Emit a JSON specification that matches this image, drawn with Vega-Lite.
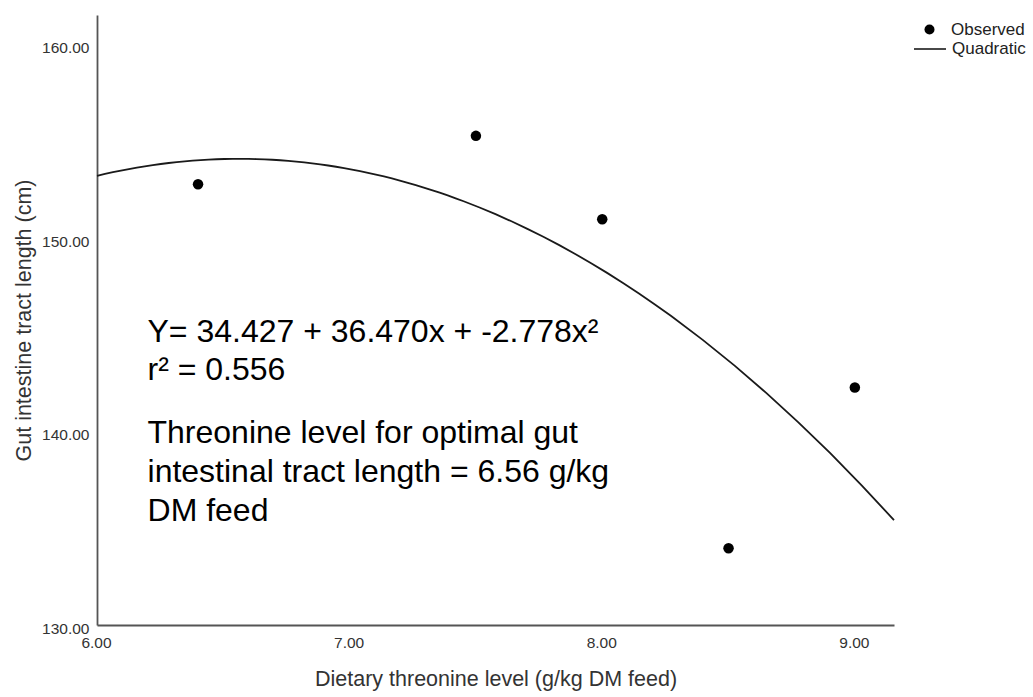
{
  "$schema": "https://vega.github.io/schema/vega-lite/v6.json",
  "width": 797,
  "height": 610,
  "autosize": {"type": "none"},
  "padding": {"left": 97, "top": 15, "right": 139, "bottom": 72},
  "background": "white",
  "config": {
    "view": {"stroke": null},
    "font": "Liberation Sans",
    "axis": {
      "domainColor": "#555555",
      "domainWidth": 1.8,
      "ticks": false,
      "grid": false,
      "labelFont": "Liberation Sans",
      "labelFontSize": 15.5,
      "labelColor": "#333333",
      "labelFlush": false,
      "titleFont": "Liberation Sans",
      "titleFontSize": 21.5,
      "titleFontWeight": "normal",
      "titleColor": "#333333"
    },
    "legend": {
      "orient": "none",
      "title": null,
      "padding": 0,
      "labelFont": "Liberation Sans",
      "labelFontSize": 17,
      "labelColor": "#222222"
    }
  },
  "datasets": {
    "observed": [
      {"threonine": 6.4, "gut_length": 152.80},
      {"threonine": 7.5, "gut_length": 155.30},
      {"threonine": 8.0, "gut_length": 150.99},
      {"threonine": 8.5, "gut_length": 133.97},
      {"threonine": 9.0, "gut_length": 142.28}
    ]
  },
  "layer": [
    {
      "data": {"name": "observed"},
      "transform": [
        {
          "regression": "gut_length",
          "on": "threonine",
          "method": "poly",
          "order": 2,
          "extent": [6, 9.155]
        }
      ],
      "mark": {"type": "line", "strokeWidth": 1.8},
      "encoding": {
        "x": {
          "field": "threonine",
          "type": "quantitative",
          "scale": {"domain": [6, 9.155], "nice": false, "zero": false},
          "axis": {
            "values": [6, 7, 8, 9],
            "format": ".2f",
            "labelPadding": 10,
            "labelOffset": -1,
            "titlePadding": 18,
            "title": "Dietary threonine level (g/kg DM feed)"
          }
        },
        "y": {
          "field": "gut_length",
          "type": "quantitative",
          "scale": {"domain": [130, 161.55], "nice": false, "zero": false},
          "axis": {
            "values": [130, 140, 150, 160],
            "format": ".2f",
            "labelPadding": 8,
            "labelOffset": 3,
            "titlePadding": 6,
            "title": "Gut intestine tract length (cm)"
          }
        },
        "color": {
          "datum": "Quadratic",
          "type": "nominal",
          "scale": {"domain": ["Quadratic"], "range": ["#1a1a1a"]},
          "legend": {
            "legendX": 816,
            "legendY": 17,
            "symbolType": "stroke",
            "symbolSize": 1024,
            "symbolStrokeWidth": 1.6,
            "labelOffset": 5
          }
        }
      }
    },
    {
      "data": {"name": "observed"},
      "mark": {"type": "point", "filled": true, "size": 110, "color": "#000000", "opacity": 1},
      "encoding": {
        "x": {"field": "threonine", "type": "quantitative"},
        "y": {"field": "gut_length", "type": "quantitative"},
        "shape": {
          "datum": "Observed",
          "type": "nominal",
          "scale": {"domain": ["Observed"], "range": ["circle"]},
          "legend": {
            "legendX": 824,
            "legendY": 6,
            "symbolSize": 100,
            "symbolFillColor": "#000000",
            "labelOffset": 13
          }
        }
      }
    },
    {
      "data": {"values": [{}]},
      "mark": {
        "type": "text",
        "text": ["Y= 34.427 + 36.470x + -2.778x²", "r² = 0.556"],
        "align": "left",
        "baseline": "alphabetic",
        "font": "Liberation Sans",
        "fontSize": 32,
        "lineHeight": 38.3,
        "color": "#000000"
      },
      "encoding": {
        "x": {"datum": 6.2, "type": "quantitative"},
        "y": {"datum": 144.66, "type": "quantitative"}
      }
    },
    {
      "data": {"values": [{}]},
      "mark": {
        "type": "text",
        "text": ["Threonine level for optimal gut", "intestinal tract length = 6.56 g/kg", "DM feed"],
        "align": "left",
        "baseline": "alphabetic",
        "font": "Liberation Sans",
        "fontSize": 32,
        "lineHeight": 39.3,
        "color": "#000000"
      },
      "encoding": {
        "x": {"datum": 6.2, "type": "quantitative"},
        "y": {"datum": 139.42, "type": "quantitative"}
      }
    }
  ]
}
